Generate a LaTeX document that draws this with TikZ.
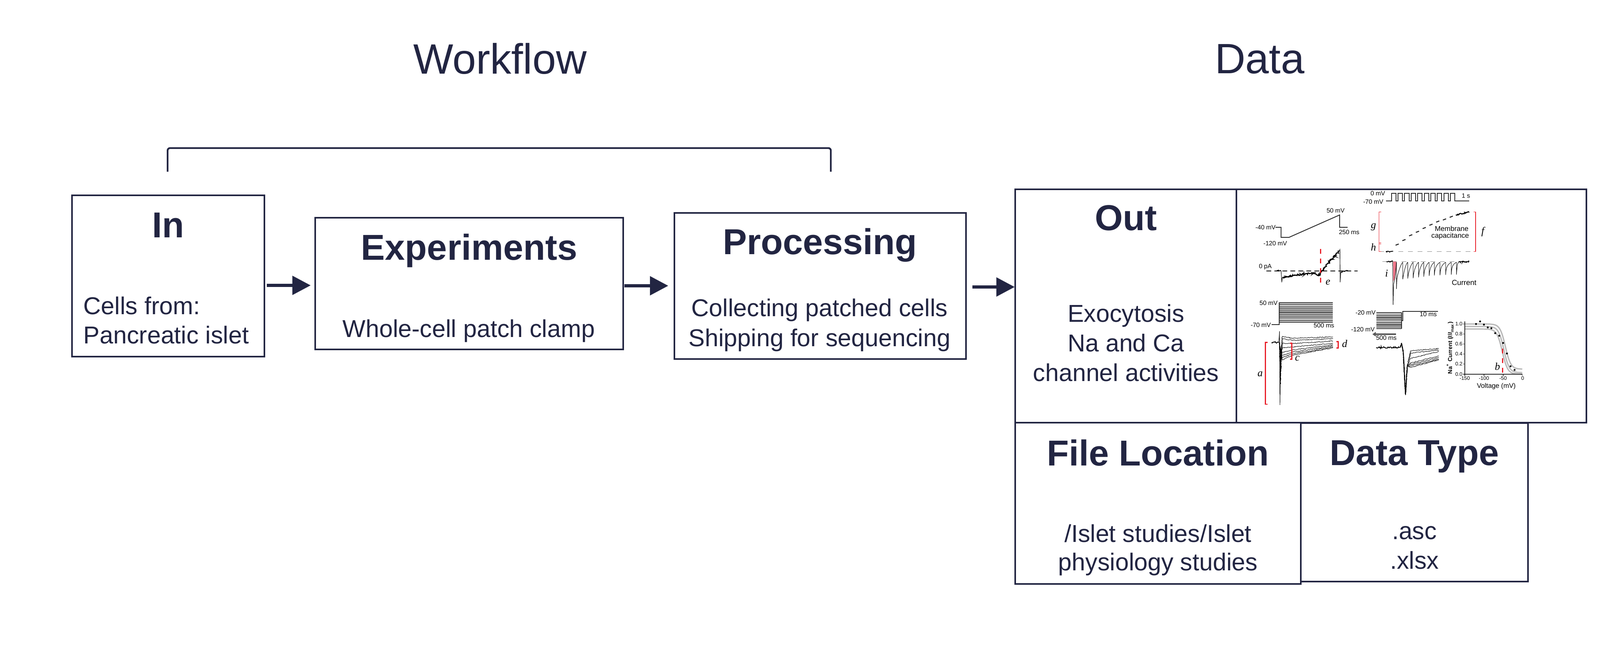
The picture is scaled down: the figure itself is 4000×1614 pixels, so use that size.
\documentclass[tikz,border=0pt]{standalone}
\usepackage{fontspec}
\setmainfont{Liberation Sans}
\newfontfamily\serifit{Liberation Serif}
\usetikzlibrary{arrows.meta,decorations.pathmorphing}
\definecolor{navy}{RGB}{34,37,66}
\definecolor{redm}{RGB}{232,30,40}
\definecolor{pinkf}{RGB}{242,120,140}
\begin{document}
\begin{tikzpicture}[x=0.25pt,y=-0.25pt,
  box/.style={draw=navy, line width=1.1pt, inner sep=0pt, outer sep=0pt, anchor=north west, rectangle},
  ttl/.style={text=navy, font=\fontsize{22.5}{27}\selectfont\bfseries, anchor=base, inner sep=0pt},
  bod/.style={text=navy, font=\fontsize{15.25}{18}\selectfont, anchor=base, inner sep=0pt},
  head/.style={text=navy, font=\fontsize{26.5}{32}\selectfont, anchor=base, inner sep=0pt},
  flow/.style={draw=navy, line width=2.2pt, -{Triangle[length=11.5pt,width=11.5pt]}},
  lab/.style={font=\fontsize{3.9}{4.5}\selectfont, inner sep=0pt, text=black},
  let/.style={font=\fontsize{6.5}{7}\selectfont\serifit\itshape, inner sep=0pt, text=black},
  tr/.style={draw=black!85, line width=0.5pt},
  thintr/.style={draw=black, line width=0.25pt},
  noisy/.style={draw=black, line width=0.5pt, decorate, decoration={random steps, segment length=0.4pt, amplitude=0.4pt}},
  noisyb/.style={draw=black, line width=0.65pt, decorate, decoration={random steps, segment length=0.35pt, amplitude=0.5pt}},
  noisyt/.style={draw=black, line width=0.25pt, decorate, decoration={random steps, segment length=0.5pt, amplitude=0.25pt}},
  redb/.style={draw=redm, line width=0.7pt},
  redt/.style={draw=redm, line width=0.3pt}
]
\useasboundingbox (0,0) rectangle (4000,1614);
\fill[white] (0,0) rectangle (4000,1614);

% headings
\node[head] (wf) at (1250,185) {Workflow};
\node[head] (dh) at (3149,184) {Data};

% bracket
\coordinate (brL) at (419,429);
\coordinate (brR) at (2077,429);
\draw[navy, line width=1.1pt, rounded corners=1.5pt] (brL) -- (419,370) -- (2077,370) -- (brR);

% boxes
\node[box, minimum width=120.25pt, minimum height=100.75pt] (in) at (180,488) {};
\node[box, minimum width=192.5pt, minimum height=82.25pt] (exp) at (788,544) {};
\node[box, minimum width=182.25pt, minimum height=91.25pt] (proc) at (1686,532) {};
\node[box, minimum width=138.25pt, minimum height=145.75pt] (out) at (2538,473) {};
\node[box, minimum width=218.75pt, minimum height=145.75pt] (panel) at (3091,473) {};
\node[box, minimum width=178.5pt, minimum height=100.75pt] (floc) at (2538,1056) {};
\node[box, minimum width=142pt, minimum height=99pt] (dtype) at (3252,1057) {};

% arrows
\coordinate (a1) at (0,713);
\coordinate (a2) at (0,714);
\coordinate (a3) at (0,717);
\draw[flow, shorten <=1.5pt, shorten >=2.8pt] (in.east |- a1) -- (exp.west |- a1);
\draw[flow, shorten <=0.8pt, shorten >=3.8pt] (exp.east |- a2) -- (proc.west |- a2);
\draw[flow, shorten <=4pt, shorten >=0.3pt] (proc.east |- a3) -- (out.west |- a3);

% texts
\node[ttl] (inT) at (420,594) {In};
\node[bod, anchor=base west] (inL1) at (208,786) {Cells from:};
\node[bod, anchor=base west] (inL2) at (208,858) {Pancreatic islet};
\node[ttl] (expT) at (1173,650) {Experiments};
\node[bod] (expL) at (1172,842) {Whole-cell patch clamp};
\node[ttl] (procT) at (2050,636) {Processing};
\node[bod] (procL1) at (2049,790) {Collecting patched cells};
\node[bod] (procL2) at (2049,865) {Shipping for sequencing};
\node[ttl] (outT) at (2815,576) {Out};
\node[bod] (outL1) at (2815,804) {Exocytosis};
\node[bod] (outL2) at (2815,878) {Na and Ca};
\node[bod] (outL3) at (2815,952) {channel activities};
\node[ttl] (flT) at (2895,1163) {File Location};
\node[bod] (flL1) at (2895,1354) {/Islet studies/Islet};
\node[bod] (flL2) at (2895,1425) {physiology studies};
\node[ttl] (dtT) at (3536,1162) {Data Type};
\node[bod] (dtL1) at (3536,1347) {.asc};
\node[bod] (dtL2) at (3536,1421) {.xlsx};

% ================= data panel =================
\begin{scope}[shift={(772.5pt,-117.5pt)}, x=0.14085pt, y=-0.09409pt]
% square wave protocol
\draw[tr] (665,85) -- (690,85)
  \foreach \i in {0,...,9} { -- ({690+29*\i},35) -- ({710+29*\i},35) -- ({710+29*\i},85) -- ({719+29*\i},85) }
  -- (1035,85);
\node[lab, anchor=east] (l0mv) at (663,35) {0 mV};
\node[lab, anchor=east] (l70mv) at (655,90) {-70 mV};
\node[lab] (l1s) at (1020,52) {1 s};

% ramp protocol
\draw[tr] (175,260) -- (200,260) -- (200,327) -- (235,327) -- (460,178) -- (460,260) -- (495,260);
\node[lab, anchor=east] (l40) at (177,260) {-40 mV};
\node[lab] (l50a) at (442,148) {50 mV};
\node[lab] (l250) at (502,292) {250 ms};
\node[lab] (l120a) at (174,366) {-120 mV};

% ramp current
\draw[black, densely dashed, line width=0.3pt] (135,550) -- (540,550);
\draw[noisy] (180,548) -- (200,550);
\draw[tr, line width=0.35pt] (200,550) -- (203,625) -- (206,592);
\draw[noisyb] (206,592) -- (280,575) -- (345,562) -- (360,578) -- (368,582) -- (375,562) -- (420,478) -- (458,418);
\draw[tr, line width=0.35pt] (458,418) -- (461,408) -- (462,625) -- (465,558);
\draw[noisy] (465,558) -- (495,545);
\draw[redm, dashed, line width=0.7pt] (375,405) -- (375,655);
\node[lab] (l0pa) at (130,522) {0 pA};
\node[let] (le) at (408,625) {e};

% capacitance
\draw[gray, dashed, line width=0.3pt] (635,422) -- (1065,422);
\draw[redt] (645,158) -- (635,158) -- (635,422) -- (645,422);
\draw[redt] (635,362) -- (645,362) (635,370) -- (645,370);
\draw[redt] (1055,158) -- (1063,158) -- (1063,422) -- (1055,422);
\draw[noisy] (665,420) -- (695,420);
\foreach \px/\py in {715/375,745/345,775/313,805/290,835/265,865/243,895/222,925/208,955/190}
  \draw[tr, line width=0.6pt] ({\px-7},{\py+4}) -- ({\px+7},{\py-4});
\draw[noisy, line width=0.6pt] (975,178) -- (1000,170) -- (1035,158);
\node[let] (lg) at (610,258) {g};
\node[let] (lh) at (610,392) {h};
\node[let] (lf) at (1095,290) {f};
\node[lab, anchor=east, font=\fontsize{4.4}{5}\selectfont] (lmem) at (1033,268) {Membrane};
\node[lab, anchor=east, font=\fontsize{4.4}{5}\selectfont] (lcap) at (1035,318) {capacitance};

% current trace
\draw[gray, dashed, line width=0.3pt] (650,487) -- (1035,487);
\fill[pinkf] (697,487) -- (712,490) -- (712,535) -- (703,605) -- (697,620) -- cycle;
\draw[noisy] (668,487) -- (695,487);
\draw[thintr] (695,487) -- (697,775) -- (699,640) -- (705,600) .. controls (708,560) and (710,520) .. (712,492);
\foreach \xa/\b/\l/\xn in {712/670/600/740, 740/605/585/762, 762/600/578/786, 786/598/570/810, 810/592/565/833, 833/588/560/857, 857/583/555/880, 880/580/550/905, 905/578/548/930, 930/576/545/955, 955/575/540/978}
  \draw[thintr] (\xa,492) -- (\xa,\b) -- ({\xa+2},\l) .. controls ({\xa+6},{\l-35}) and ({\xn-8},500) .. (\xn,492);
\draw[thintr] (978,492) -- (978,575) -- (980,540) .. controls (982,505) .. (988,490);
\draw[noisy] (988,490) -- (1035,487);
\node[let] (li) at (668,565) {i};
\node[lab, font=\fontsize{4.6}{5}\selectfont] (lcur) at (1012,628) {Current};

% step protocol (left)
\draw[tr] (157,905) -- (192,905) -- (192,760);
\foreach \k in {0,...,13}
  \draw[tr, line width=0.45pt] (192,{760+10*\k}) -- (430,{760+10*\k});
\node[lab, anchor=east] (l50b) at (186,763) {50 mV};
\node[lab, anchor=east] (l70b) at (156,908) {-70 mV};
\node[lab] (l500a) at (390,912) {500 ms};

% left trace family
\draw[noisy] (158,1025) -- (190,1025);
\draw[thintr] (190,1025) -- (193,950) -- (195,1440) -- (198,1100) -- (202,1040);
\foreach \d/\s/\e in {1300/985/988, 1250/1000/1000, 1200/1030/1015, 1160/1060/1030, 1120/1090/1040, 1100/1110/1048, 1080/1125/1055, 1060/1140/1060}
  \draw[noisyt] (193,1025) -- (197,\d) -- (205,\s) -- (250,{(\s+\e)/2+10}) -- (430,\e);
\draw[redb] (140,1025) -- (130,1025) -- (130,1435) -- (140,1435);
\draw[redb] (240,1030) -- (248,1030) -- (248,1135) -- (240,1135);
\draw[redb] (445,1020) -- (453,1020) -- (453,1062) -- (445,1062);
\node[let] (la) at (107,1235) {a};
\node[let] (lc) at (272,1130) {c};
\node[let] (ld) at (482,1032) {d};

% step protocol (middle)
\foreach \k in {0,...,11}
  \draw[tr, line width=0.45pt] (622,{826+9.6*\k}) -- (735,{826+9.6*\k});
\draw[tr] (735,826) -- (735,932);
\draw[tr] (735,880) -- (740,880) -- (740,818) -- (897,818);
\draw[gray!70!black, line width=0.9pt, -{Triangle[length=2.2pt,width=2.8pt]}] (710,970) -- (605,970);
\node[lab, anchor=east] (l20) at (621,828) {-20 mV};
\node[lab, anchor=east] (l120b) at (617,938) {-120 mV};
\node[lab] (l10) at (853,838) {10 ms};
\node[lab] (l500b) at (667,995) {500 ms};

% middle trace family
\draw[noisy] (622,1058) -- (728,1058);
\foreach \m/\e in {1080/1065, 1095/1075, 1130/1085, 1160/1115, 1170/1125, 1180/1135, 1190/1140}
  \draw[noisyt] (728,1058) -- (735,1030) -- (742,1090) -- (752,1370) -- (760,1180) -- (775,\m) -- (900,\e);

% I-V plot
\draw[gray!55, line width=0.8pt] plot[domain=-150:0, samples=60] ({1270+1.7*\x},{1235-333*(0.1+0.9/(1+exp((\x+44)/7)))});
\draw[gray!55, line width=0.8pt] plot[domain=-150:0, samples=60] ({1270+1.7*\x},{1235-333*(0.03+0.92/(1+exp((\x+48)/7)))});
\draw[gray!55, line width=0.8pt] plot[domain=-150:0, samples=60] ({1270+1.7*\x},{1235-333*(0.9/(1+exp((\x+52)/7)))});
\draw[tr, line width=0.6pt] (1015,885) -- (1015,1235) -- (1270,1235);
\foreach \yy in {902,968,1035,1101,1168,1235}
  \draw[tr, line width=0.4pt] (1008,\yy) -- (1015,\yy);
\foreach \xx in {1015,1100,1185,1270}
  \draw[tr, line width=0.4pt] (\xx,1235) -- (\xx,1245);
\foreach \lbl/\yy in {1.0/902,0.8/968,0.6/1035,0.4/1101,0.2/1168,0.0/1235}
  \node[lab, anchor=east, font=\fontsize{3.2}{4}\selectfont] at (1006,\yy) {\lbl};
\foreach \lbl/\xx in {-150/1015,-100/1100,-50/1185,0/1272}
  \node[lab, font=\fontsize{3.2}{4}\selectfont] at (\xx,1262) {\lbl};
\foreach \px/\py in {1065/902,1083/885,1100/906,1117/925,1133/930,1150/963,1168/980,1185/1028,1202/1098,1218/1183,1236/1207}
  \fill[black] (\px,\py) circle[radius=0.6pt];
\draw[redm, dashed, line width=0.7pt] (1183,1065) -- (1183,1235);
\node[let] (lb) at (1160,1185) {b};
\node[lab, font=\fontsize{4.2}{5}\selectfont] (lvolt) at (1155,1315) {Voltage (mV)};
\node[lab, rotate=90, font=\fontsize{3.6}{4}\selectfont\bfseries] (lna) at (950,1060) {Na\textsuperscript{+} Current (\textit{I}/\textit{I}\textsubscript{max})};
\end{scope}
\end{tikzpicture}
\end{document}
